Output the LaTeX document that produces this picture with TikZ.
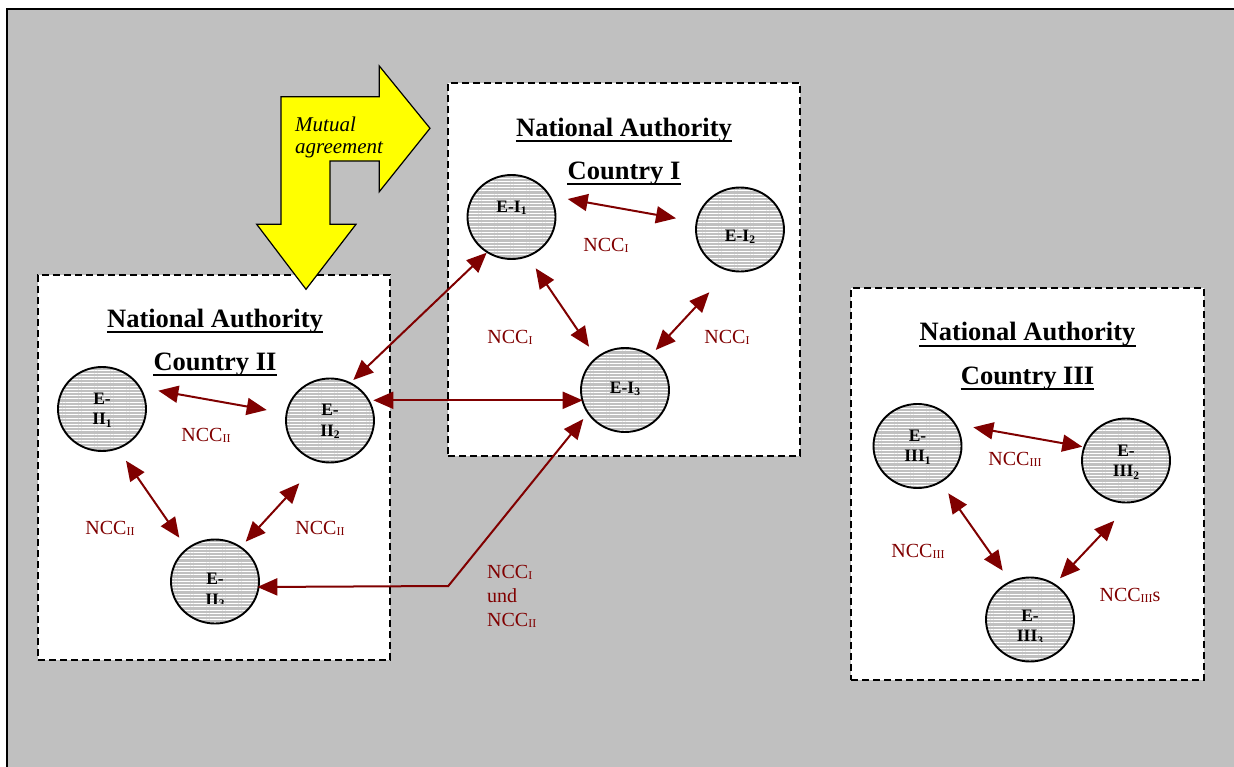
\documentclass[tikz,border=0pt]{standalone}
\usepackage{fontspec}
\setmainfont{Liberation Serif}
\usetikzlibrary{arrows.meta,shapes.geometric,patterns.meta}
\definecolor{bg}{HTML}{C0C0C0}
\definecolor{dred}{HTML}{800000}
\definecolor{yel}{HTML}{FFFF00}
\newcommand{\nsub}[1]{\raisebox{-1pt}{\fontsize{12}{12}\selectfont #1}}
\newcommand{\esub}[1]{\raisebox{-2.5pt}{\fontsize{11.5}{11.5}\selectfont #1}}
\begin{document}
\begin{tikzpicture}[x=1pt,y=-1pt,
  ent/.style={draw=black,line width=1.9pt,ellipse,minimum width=88pt,minimum height=84pt,inner sep=0pt,
     preaction={fill=bg}, pattern={Lines[angle=0,distance=3.2pt,line width=1pt]}, pattern color=white},
  boxst/.style={draw=black,line width=1.5pt,dash pattern=on 7pt off 4pt,fill=white,inner sep=0pt},
  title/.style={font=\fontsize{26.5}{30}\selectfont\bfseries,inner sep=0pt,anchor=base},
  ul/.style={line width=2pt},
  ncc/.style={text=dred,font=\fontsize{20}{24}\selectfont,inner sep=0pt},
  elab/.style={font=\fontsize{17.5}{20.7}\selectfont\bfseries,inner sep=0pt,align=center},
  mut/.style={font=\fontsize{21}{24}\selectfont\itshape,inner sep=0pt,anchor=base west},
  conn/.style={draw=dred,line width=2pt,{Triangle[length=20pt,width=17pt]}-{Triangle[length=20pt,width=17pt]}}
]
\useasboundingbox (0,0) rectangle (1234,767);
\clip (0,0) rectangle (1234,767);
\fill[white] (0,0) rectangle (1234,767);
\draw[fill=bg,line width=2pt] (7,9) rectangle (1260,790);

% boxes
\node[boxst,minimum width=352pt,minimum height=373pt] (box1) at (624,269.5) {};
\node[boxst,minimum width=352pt,minimum height=385pt] (box2) at (214,467.5) {};
\node[boxst,minimum width=353pt,minimum height=392pt] (box3) at (1027.5,484) {};

% yellow arrow
\draw[fill=yel,line width=1.2pt,line join=miter] (281,96.7) -- (379.3,96.7) -- (379.3,66) -- (430,128.3) -- (379.3,191.7) -- (379.3,161) -- (330,161) -- (330,224.3) -- (356,224.3) -- (306,289.3) -- (256.7,224.3) -- (281,224.3) -- cycle;
\node[mut] (mu1) at (295,131.7) {Mutual};
\node[mut] (mu2) at (295,154) {agreement};

% titles
\node[title] (t1a) at (624,137) {National Authority};
\node[title] (t1b) at (624,180) {Country I};
\node[title] (t2a) at (215,327.5) {National Authority};
\node[title] (t2b) at (215,370) {Country II};
\node[title] (t3a) at (1027.5,341) {National Authority};
\node[title] (t3b) at (1027.5,384) {Country III};
\foreach \t in {t1a,t1b,t2a,t2b,t3a,t3b}{
  \draw[ul] ([yshift=-4.5pt]\t.base west) -- ([yshift=-4.5pt]\t.base east);
}

% entities
\node[ent] (ei1) at (511.5,217) {};
\node[ent] (ei2) at (740,229.5) {};
\node[ent] (ei3) at (625,390) {};
\node[ent] (eii1) at (102,409) {};
\node[ent] (eii2) at (330,420.5) {};
\node[ent] (eii3) at (215,581.5) {};
\node[ent] (eiii1) at (917.5,446) {};
\node[ent] (eiii2) at (1126,460.5) {};
\node[ent] (eiii3) at (1030,619.5) {};

\node[elab] (li1) at (511.5,208) {E-I\esub{1}};
\node[elab] (li2) at (740,237) {E-I\esub{2}};
\node[elab] (li3) at (625,389) {E-I\esub{3}};
\node[elab] (lii1) at (102,410) {E-\\II\esub{1}};
\node[elab] (lii2) at (330,421.5) {E-\\II\esub{2}};
\node[elab] (liii1) at (917.5,447) {E-\\III\esub{1}};
\node[elab] (liii2) at (1126,462) {E-\\III\esub{2}};
\begin{scope}
\clip (171,560) rectangle (259,603);
\node[elab] (lii3) at (215,590.5) {E-\\II\esub{3}};
\end{scope}
\begin{scope}
\clip (986,596) rectangle (1074,641);
\node[elab] (liii3) at (1030,627) {E-\\III\esub{3}};
\end{scope}

% arrow end points
\coordinate (a1s) at (567.7,199);  \coordinate (a1e) at (676,218.3);
\coordinate (a2s) at (535.7,268.3); \coordinate (a2e) at (589,346.7);
\coordinate (a3s) at (709.3,292.3); \coordinate (a3e) at (655.7,350);
\coordinate (b1s) at (158.3,390.7); \coordinate (b1e) at (266.7,410);
\coordinate (b2s) at (126,460.7);   \coordinate (b2e) at (179.3,537.7);
\coordinate (b3s) at (299.3,483.3); \coordinate (b3e) at (245.7,541.7);
\coordinate (c1s) at (973.3,427.3); \coordinate (c1e) at (1082.3,446.7);
\coordinate (c2s) at (948.3,493.3); \coordinate (c2e) at (1002.7,570.7);
\coordinate (c3s) at (1114.3,520.7); \coordinate (c3e) at (1060,578.3);
\coordinate (x1s) at (353.3,380);   \coordinate (x1e) at (486.7,252.7);
\coordinate (x2s) at (373.3,400.3); \coordinate (x2e) at (582.7,400.3);
\coordinate (x3s) at (583.3,419);   \coordinate (x3c) at (448.3,586); \coordinate (x3e) at (257.3,587);

\draw[conn] (a1s) -- (a1e);
\draw[conn] (a2s) -- (a2e);
\draw[conn] (a3s) -- (a3e);
\draw[conn] (b1s) -- (b1e);
\draw[conn] (b2s) -- (b2e);
\draw[conn] (b3s) -- (b3e);
\draw[conn] (c1s) -- (c1e);
\draw[conn] (c2s) -- (c2e);
\draw[conn] (c3s) -- (c3e);
\draw[conn] (x1s) -- (x1e);
\draw[conn] (x2s) -- (x2e);
\draw[conn,line join=miter] (x3s) -- (x3c) -- (x3e);

% NCC labels
\node[ncc] (n1a) at (606,245) {NCC\nsub{I}};
\node[ncc] (n1b) at (510,337) {NCC\nsub{I}};
\node[ncc] (n1c) at (727,337) {NCC\nsub{I}};
\node[ncc] (n2a) at (206,435) {NCC\nsub{II}};
\node[ncc] (n2b) at (110,528) {NCC\nsub{II}};
\node[ncc] (n2c) at (320,528) {NCC\nsub{II}};
\node[ncc] (n3a) at (1015,459) {NCC\nsub{III}};
\node[ncc] (n3b) at (918,551) {NCC\nsub{III}};
\node[ncc] (n3c) at (1130,595) {NCC\nsub{III}s};
\node[ncc,anchor=base west,align=left] (nx) at (487,626) {NCC\nsub{I}\\und\\NCC\nsub{II}};
\end{tikzpicture}
\end{document}
